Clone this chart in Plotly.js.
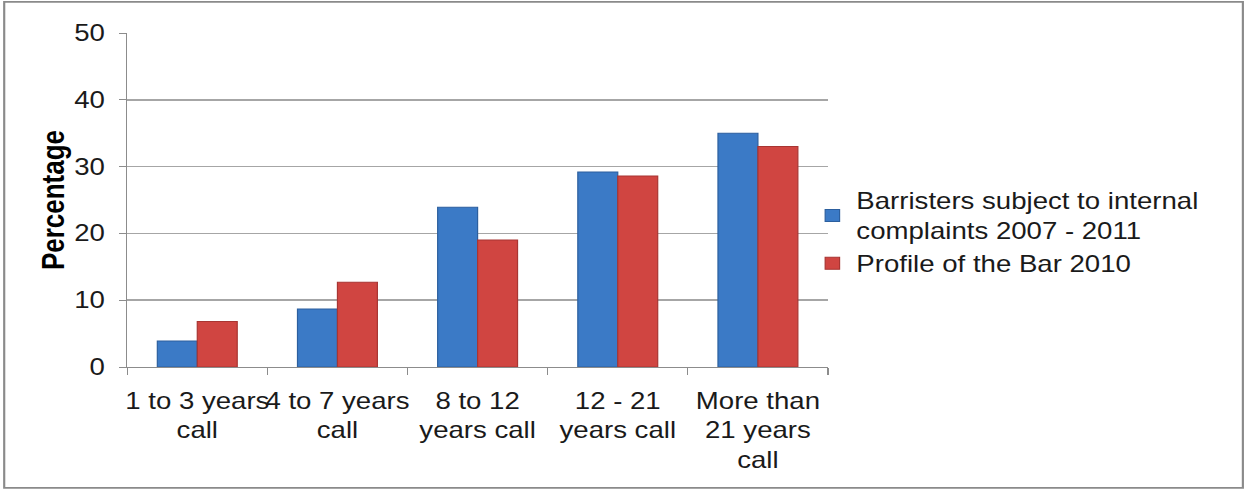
<!DOCTYPE html>
<html><head><meta charset="utf-8">
<script src="https://cdn.plot.ly/plotly-3.0.1.min.js"></script>
<style>
html,body{margin:0;padding:0;background:#fff;overflow:hidden;width:1247px;height:491px;}
#chart{width:1039px;height:491px;transform:scaleX(1.2);transform-origin:0 0;}
</style>
</head><body><div id="chart"></div>
<script>
const categories = ["1 to 3 years<br>call", "4 to 7 years<br>call", "8 to 12<br>years call", "12 - 21<br>years call", "More than<br>21 years<br>call"];
const seriesNames = ["Barristers subject to internal<br>complaints 2007 - 2011", "Profile of the Bar 2010"];
const barristers = [3.9, 8.7, 23.9, 29.2, 35.0];
const profile = [6.8, 12.7, 19.0, 28.6, 33.0];
const yTicks = [0, 10, 20, 30, 40, 50];

const fam = "Liberation Sans, Arial, sans-serif";
const traces = [
  {type: "bar", name: seriesNames[0], x: categories, y: barristers,
   marker: {color: "#3b7ac6", line: {color: "#2c5f9e", width: 1}}},
  {type: "bar", name: seriesNames[1], x: categories, y: profile,
   marker: {color: "#d04541", line: {color: "#a83532", width: 1}}}
];
const layout = {
  width: 1039, height: 491,
  margin: {l: 106, r: 349, t: 33, b: 124},
  paper_bgcolor: "#fff", plot_bgcolor: "#fff",
  font: {family: fam, size: 23, color: "#1a1a1a"},
  barmode: "group", bargap: 0.43, bargroupgap: 0,
  showlegend: true,
  legend: {x: 0.972, xanchor: "left", y: 0.404, yanchor: "middle",
           font: {family: fam, size: 23, color: "#1a1a1a"},
           itemwidth: 30, bgcolor: "rgba(0,0,0,0)"},
  xaxis: {type: "category", showline: true, linecolor: "#8c8c8c", linewidth: 1,
          ticks: "outside", tickson: "boundaries", ticklen: 7, tickcolor: "#8c8c8c",
          tickangle: 0, ticklabelstandoff: 13,
          showgrid: false, tickfont: {family: fam, size: 23, color: "#1a1a1a"}, automargin: false},
  yaxis: {range: [0, 50], tickvals: yTicks, ticktext: yTicks.map(String),
          showline: true, linecolor: "#8c8c8c", linewidth: 1,
          ticks: "outside", ticklen: 6, tickcolor: "#8c8c8c",
          showgrid: true, gridcolor: "#a6a6a6", gridwidth: 1.5, zeroline: false,
          tickfont: {family: fam, size: 23, color: "#1a1a1a"}, automargin: false,
          ticklabelstandoff: 7,
          title: {text: "<b>Percentage</b>", font: {family: fam, size: 26, color: "#000"}, standoff: 0}},
  shapes: [{type: "rect", xref: "paper", yref: "paper",
            x0: -0.1755, x1: 1.592, y0: -0.362, y1: 1.093,
            line: {color: "#8a8a8a", width: 1.8}, fillcolor: "rgba(0,0,0,0)", layer: "below"}]
};
Plotly.newPlot("chart", traces, layout, {displayModeBar: false, staticPlot: true});
</script></body></html>
